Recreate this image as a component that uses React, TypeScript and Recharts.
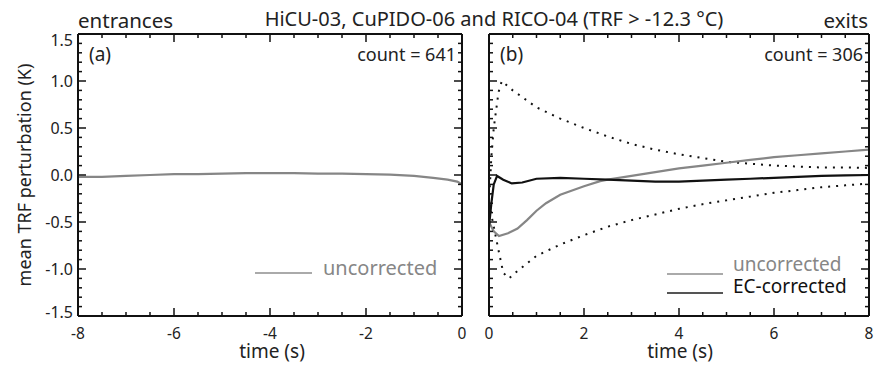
import React from "react";
import { LineChart, Line, XAxis, YAxis } from "recharts";

// ---------- data ----------
const leftTimes = [-8, -7.5, -7, -6.5, -6, -5.5, -5, -4.5, -4, -3.5, -3, -2.5, -2, -1.5, -1, -0.6, -0.3, -0.1, 0];
const leftUncorrected = [-0.02, -0.02, -0.01, 0.0, 0.01, 0.01, 0.015, 0.02, 0.02, 0.02, 0.015, 0.015, 0.01, 0.005, -0.01, -0.03, -0.05, -0.07, -0.1];

const rightUncTimes = [0, 0.1, 0.21, 0.4, 0.6, 0.8, 1.0, 1.2, 1.5, 2.0, 2.34, 2.5, 3.0, 3.5, 4.0, 4.5, 5.0, 5.5, 6.0, 6.5, 7.0, 7.5, 8.0];
const rightUncorrected = [-0.5, -0.6, -0.65, -0.62, -0.57, -0.48, -0.38, -0.3, -0.21, -0.12, -0.065, -0.05, -0.01, 0.03, 0.07, 0.1, 0.13, 0.16, 0.19, 0.21, 0.23, 0.25, 0.27];

const rightEcTimes = [0, 0.05, 0.1, 0.17, 0.3, 0.48, 0.7, 1.0, 1.5, 2.0, 2.5, 3.0, 3.5, 4.0, 4.5, 5.0, 5.5, 6.0, 6.5, 7.0, 7.5, 8.0];
const rightEcCorrected = [-0.55, -0.3, -0.1, -0.01, -0.05, -0.09, -0.08, -0.04, -0.03, -0.04, -0.05, -0.06, -0.07, -0.07, -0.06, -0.05, -0.04, -0.03, -0.02, -0.01, -0.005, 0.0];

const upperTimes = [0, 0.05, 0.1, 0.2, 0.27, 0.5, 1.0, 1.5, 2.0, 2.5, 3.0, 3.5, 4.0, 4.5, 5.0, 5.5, 6.0, 6.5, 7.0, 7.5, 8.0];
const upperBound = [-0.3, 0.2, 0.5, 0.88, 1.0, 0.9, 0.72, 0.6, 0.5, 0.41, 0.33, 0.27, 0.22, 0.18, 0.14, 0.12, 0.1, 0.09, 0.08, 0.08, 0.075];

const lowerTimes = [0, 0.1, 0.2, 0.3, 0.42, 0.6, 1.0, 1.5, 2.0, 2.5, 3.0, 3.5, 4.0, 4.5, 5.0, 5.5, 6.0, 6.5, 7.0, 7.5, 8.0];
const lowerBound = [-0.3, -0.55, -0.8, -1.04, -1.1, -1.02, -0.86, -0.74, -0.64, -0.55, -0.48, -0.42, -0.36, -0.31, -0.27, -0.23, -0.19, -0.16, -0.13, -0.11, -0.09];

const leftXTicks = [-8, -7.5, -7, -6.5, -6, -5.5, -5, -4.5, -4, -3.5, -3, -2.5, -2, -1.5, -1, -0.5, 0];
const rightXTicks = [0, 0.5, 1, 1.5, 2, 2.5, 3, 3.5, 4, 4.5, 5, 5.5, 6, 6.5, 7, 7.5, 8];
const yTicks = Array.from({ length: 31 }, (_, i) => Math.round((-1.5 + i * 0.1) * 10) / 10);

const zip = (t: number[], v: number[]) => t.map((x, i) => ({ t: x, v: v[i] }));

const FONT = "'Noto Sans', 'Open Sans', sans-serif";
const GRAY = "#868686";
const BLACK = "#111";

const isMajorX = (v: number) => Math.abs(v / 2 - Math.round(v / 2)) < 1e-6;
const isMajorY = (v: number) => Math.abs(v * 2 - Math.round(v * 2)) < 1e-6;

const XTick = (props: any) => {
  const { x, y, payload, side, showLabel } = props;
  const v = payload.value;
  const major = isMajorX(v);
  const len = major ? 8 : 4;
  const dir = side === "bottom" ? -1 : 1;
  return (
    <g>
      <line x1={x} y1={y} x2={x} y2={y + dir * len} stroke={BLACK} strokeWidth={1.5} />
      {showLabel && major ? (
        <text x={x} y={y + 23} textAnchor="middle" fontSize={15.5} fontFamily={FONT} fill="#222">
          {String(v)}
        </text>
      ) : null}
    </g>
  );
};

const YTick = (props: any) => {
  const { x, y, payload, side, showLabel } = props;
  const v = payload.value;
  const major = isMajorY(v);
  const len = major ? 8 : 4;
  const dir = side === "left" ? 1 : -1;
  const shift = v >= 1.5 ? 6 : v <= -1.5 ? -4 : 0;
  return (
    <g>
      <line x1={x} y1={y} x2={x + dir * len} y2={y} stroke={BLACK} strokeWidth={1.5} />
      {showLabel && major ? (
        <text x={x - 5} y={y + 6 + shift} textAnchor="end" fontSize={16} fontFamily={FONT} fill="#222">
          {v.toFixed(1)}
        </text>
      ) : null}
    </g>
  );
};

const axisLine = { stroke: BLACK, strokeWidth: 2 };

function Frame({ xDomain, xTicks, yLabels }: { xDomain: [number, number]; xTicks: number[]; yLabels: boolean }) {
  return [
    <XAxis key="xb" xAxisId="b" dataKey="t" type="number" domain={xDomain} ticks={xTicks} interval={0} height={1}
      tickSize={0} tickMargin={0} tickLine={false} axisLine={axisLine} allowDataOverflow
      tick={<XTick side="bottom" showLabel />} />,
    <XAxis key="xt" xAxisId="t" orientation="top" dataKey="t" type="number" domain={xDomain} ticks={xTicks} interval={0} height={1}
      tickSize={0} tickMargin={0} tickLine={false} axisLine={axisLine} allowDataOverflow
      tick={<XTick side="top" />} />,
    <YAxis key="yl" yAxisId="l" type="number" domain={[-1.5, 1.5]} ticks={yTicks} interval={0} width={1}
      tickSize={0} tickMargin={0} tickLine={false} axisLine={axisLine} allowDataOverflow
      tick={<YTick side="left" showLabel={yLabels} />} />,
    <YAxis key="yr" yAxisId="r" orientation="right" type="number" domain={[-1.5, 1.5]} ticks={yTicks} interval={0} width={1}
      tickSize={0} tickMargin={0} tickLine={false} axisLine={axisLine} allowDataOverflow
      tick={<YTick side="right" />} />,
  ];
}

export default function App() {
  const margin = { top: 33, bottom: 48 };
  return (
    <div style={{ position: "absolute", left: 0, top: 0, width: 874, height: 365, background: "#fff", overflow: "hidden" }}>
      <div style={{ position: "absolute", left: 0, top: 0 }}>
        <LineChart width={470} height={365} margin={{ ...margin, left: 77, right: 7 }} style={{ overflow: "visible" }}>
          {Frame({ xDomain: [-8, 0], xTicks: leftXTicks, yLabels: true })}
          <Line xAxisId="b" yAxisId="l" data={zip(leftTimes, leftUncorrected)} dataKey="v" stroke={GRAY} strokeWidth={2.2}
            dot={false} isAnimationActive={false} type="linear" />
        </LineChart>
      </div>
      <div style={{ position: "absolute", left: 470, top: 0 }}>
        <LineChart width={404} height={365} margin={{ ...margin, left: 18, right: 4 }} style={{ overflow: "visible" }}>
          {Frame({ xDomain: [0, 8], xTicks: rightXTicks, yLabels: false })}
          <Line xAxisId="b" yAxisId="l" data={zip(upperTimes, upperBound)} dataKey="v" stroke={BLACK} strokeWidth={2}
            strokeDasharray="2 6" dot={false} isAnimationActive={false} type="linear" />
          <Line xAxisId="b" yAxisId="l" data={zip(lowerTimes, lowerBound)} dataKey="v" stroke={BLACK} strokeWidth={2}
            strokeDasharray="2 6" dot={false} isAnimationActive={false} type="linear" />
          <Line xAxisId="b" yAxisId="l" data={zip(rightUncTimes, rightUncorrected)} dataKey="v" stroke={GRAY} strokeWidth={2.2}
            dot={false} isAnimationActive={false} type="linear" />
          <Line xAxisId="b" yAxisId="l" data={zip(rightEcTimes, rightEcCorrected)} dataKey="v" stroke={BLACK} strokeWidth={2.2}
            dot={false} isAnimationActive={false} type="linear" />
        </LineChart>
      </div>
      <svg width={874} height={365} style={{ position: "absolute", left: 0, top: 0, pointerEvents: "none" }} fontFamily={FONT}>
        <text x={78} y={28} fontSize={20.5} fill="#222">entrances</text>
        <text x={494} y={26} fontSize={20} fill="#222" textAnchor="middle">HiCU-03, CuPIDO-06 and RICO-04 (TRF &gt; -12.3 °C)</text>
        <text x={868} y={28} fontSize={20.5} fill="#222" textAnchor="end">exits</text>
        <text x={89} y={61} fontSize={19} fill="#222">(a)</text>
        <text x={456} y={61} fontSize={18} fill="#222" textAnchor="end">count = 641</text>
        <text x={500} y={61} fontSize={19} fill="#222">(b)</text>
        <text x={863} y={61} fontSize={18} fill="#222" textAnchor="end">count = 306</text>
        <text x={272} y={358} fontSize={19} fill="#222" textAnchor="middle">time (s)</text>
        <text x={680} y={358} fontSize={19} fill="#222" textAnchor="middle">time (s)</text>
        <text transform="translate(31,175) rotate(-90)" fontSize={18} fill="#222" textAnchor="middle">mean TRF perturbation (K)</text>
        {/* legends */}
        <line x1={255} y1={273} x2={312} y2={273} stroke="#aaa" strokeWidth={2} />
        <text x={323} y={275} fontSize={20} fill={GRAY}>uncorrected</text>
        <line x1={667} y1={274} x2={723} y2={274} stroke="#aaa" strokeWidth={2} />
        <text x={733} y={271} fontSize={19} fill={GRAY}>uncorrected</text>
        <line x1={667} y1={293} x2={723} y2={293} stroke="#555" strokeWidth={2} />
        <text x={733} y={293} fontSize={19} fill={BLACK}>EC-corrected</text>
      </svg>
    </div>
  );
}
